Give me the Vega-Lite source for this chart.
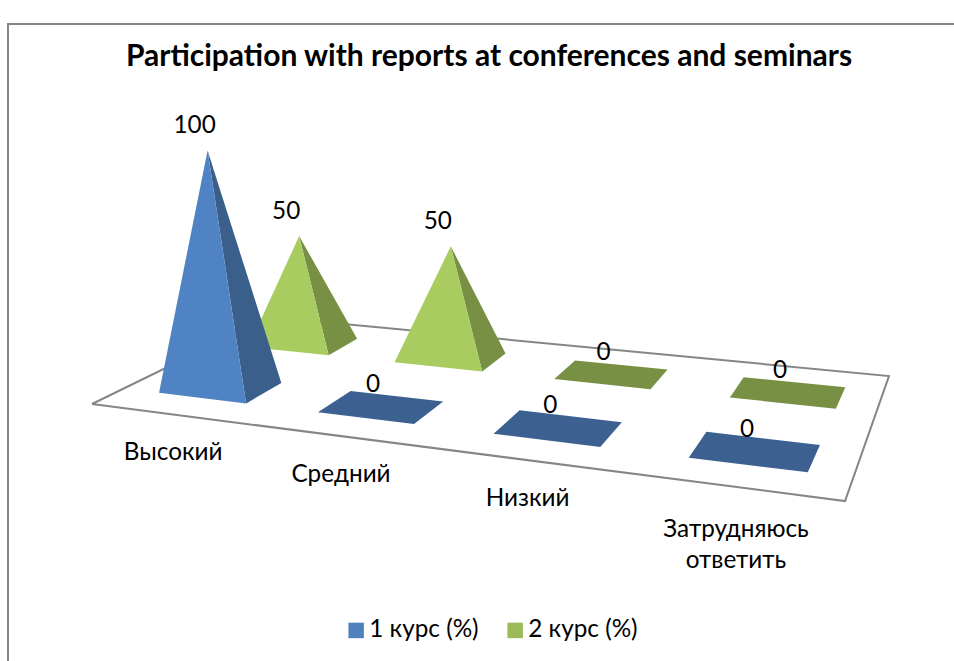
{
"$schema":"https://vega.github.io/schema/vega-lite/v6.json",
"width":954,"height":661,"padding":0,"autosize":"none",
"background":"white",
"config":{"font":"Lato","view":{"stroke":null}},
"title":{"text":"Participation with reports at conferences and seminars","font":"Lato","fontSize":30,"fontWeight":"bold","color":"#000000","anchor":"middle","frame":"group","dx":12,"dy":96,"offset":0,"baseline":"alphabetic"},
"data":{"values":[
{"category":"Высокий","series":"1 курс (%)","value":100},
{"category":"Средний","series":"1 курс (%)","value":0},
{"category":"Низкий","series":"1 курс (%)","value":0},
{"category":"Затрудняюсь ответить","series":"1 курс (%)","value":0},
{"category":"Высокий","series":"2 курс (%)","value":50},
{"category":"Средний","series":"2 курс (%)","value":50},
{"category":"Низкий","series":"2 курс (%)","value":0},
{"category":"Затрудняюсь ответить","series":"2 курс (%)","value":0}
]},
"transform":[
{"calculate":"(indexof(['Высокий','Средний','Низкий','Затрудняюсь ответить'],datum.category)+0.5)/4+0.004","as":"u"},
{"calculate":"datum.series==='1 курс (%)'?0.25:0.75","as":"v"},
{"calculate":"-0.1953*datum.u+0.2304*datum.v+1","as":"den"},
{"calculate":"(588*datum.u+240.2*datum.v+92)/datum.den","as":"cx"},
{"calculate":"(-0.8*datum.u-14*datum.v+404)/datum.den","as":"cy"},
{"calculate":"-0.1953*(datum.u-0.07)+0.2304*(datum.v-0.1)+1","as":"d1"},
{"calculate":"round(100*((588*(datum.u-0.07)+240.2*(datum.v-0.1)+92)/datum.d1-datum.cx))/100","as":"x1"},
{"calculate":"round(100*((-0.8*(datum.u-0.07)-14*(datum.v-0.1)+404)/datum.d1-datum.cy))/100","as":"y1"},
{"calculate":"-0.1953*(datum.u+0.07)+0.2304*(datum.v-0.1)+1","as":"d2"},
{"calculate":"round(100*((588*(datum.u+0.07)+240.2*(datum.v-0.1)+92)/datum.d2-datum.cx))/100","as":"x2"},
{"calculate":"round(100*((-0.8*(datum.u+0.07)-14*(datum.v-0.1)+404)/datum.d2-datum.cy))/100","as":"y2"},
{"calculate":"-0.1953*(datum.u+0.07)+0.2304*(datum.v+0.1)+1","as":"d3"},
{"calculate":"round(100*((588*(datum.u+0.07)+240.2*(datum.v+0.1)+92)/datum.d3-datum.cx))/100","as":"x3"},
{"calculate":"round(100*((-0.8*(datum.u+0.07)-14*(datum.v+0.1)+404)/datum.d3-datum.cy))/100","as":"y3"},
{"calculate":"-0.1953*(datum.u-0.07)+0.2304*(datum.v+0.1)+1","as":"d4"},
{"calculate":"round(100*((588*(datum.u-0.07)+240.2*(datum.v+0.1)+92)/datum.d4-datum.cx))/100","as":"x4"},
{"calculate":"round(100*((-0.8*(datum.u-0.07)-14*(datum.v+0.1)+404)/datum.d4-datum.cy))/100","as":"y4"},
{"calculate":"round(100*(datum.cx-440)*datum.value*0.0006)/100","as":"ax"},
{"calculate":"round(-100*datum.value*2.45/datum.den)/100","as":"ay"},
{"calculate":"'M'+datum.x1+' '+datum.y1+'L'+datum.x2+' '+datum.y2+'L'+datum.ax+' '+datum.ay+'Z'","as":"frontPath"},
{"calculate":"'M'+datum.x2+' '+datum.y2+'L'+datum.x3+' '+datum.y3+'L'+datum.ax+' '+datum.ay+'Z'","as":"sidePath"},
{"calculate":"'M'+datum.x1+' '+datum.y1+'L'+datum.x2+' '+datum.y2+'L'+datum.x3+' '+datum.y3+'L'+datum.x4+' '+datum.y4+'Z'","as":"basePath"},
{"calculate":"datum.cx+datum.ax-(datum.value>0?13:8)","as":"valueX"},
{"calculate":"datum.cy+datum.ay-(datum.value>0?24.5:21.5)","as":"valueY"},
{"calculate":"(588*datum.u+92)/(-0.1953*datum.u+1)+1","as":"catX"},
{"calculate":"(-0.8*datum.u+404)/(-0.1953*datum.u+1)+(datum.u>0.8?31:27)","as":"catY"}
],
"encoding":{
"x":{"field":"cx","type":"quantitative","scale":{"domain":[0,954],"nice":false,"zero":false},"axis":null},
"y":{"field":"cy","type":"quantitative","scale":{"domain":[661,0],"nice":false,"zero":false},"axis":null}
},
"layer":[
{"data":{"values":[{"u":0,"v":0,"k":0},{"u":1,"v":0,"k":1},{"u":1,"v":1,"k":2},{"u":0,"v":1,"k":3},{"u":0,"v":0,"k":4}]},
 "transform":[
 {"calculate":"-0.1953*datum.u+0.2304*datum.v+1","as":"den"},
 {"calculate":"(588*datum.u+240.2*datum.v+92)/datum.den","as":"cx"},
 {"calculate":"(-0.8*datum.u-14*datum.v+404)/datum.den","as":"cy"}],
 "mark":{"type":"line","stroke":"#868686","strokeWidth":2,"strokeJoin":"miter"},
 "encoding":{"order":{"field":"k","type":"quantitative"}}},
{"data":{"values":[{"k":0,"cx":8,"cy":661},{"k":1,"cx":8,"cy":24},{"k":2,"cx":954,"cy":24}]},
 "mark":{"type":"line","stroke":"#868686","strokeWidth":2,"strokeJoin":"miter"},
 "encoding":{"order":{"field":"k","type":"quantitative"}}},
{"mark":{"type":"point","filled":true,"opacity":0,"size":1},
 "encoding":{"fill":{"field":"series","type":"nominal","scale":{"domain":["1 курс (%)","2 курс (%)"],"range":["#4F81BD","#9BBB59"]},
 "legend":{"title":null,"orient":"none","legendX":344,"legendY":618,"direction":"horizontal","columns":2,"symbolType":"square","symbolSize":240,"symbolStrokeWidth":0,"symbolOpacity":1,"labelFont":"Lato","labelFontSize":24.3,"labelColor":"#000000","columnPadding":24,"labelOffset":1,"labelLimit":200}}}},
{"transform":[{"filter":"datum.series==='2 курс (%)' && datum.value>0"}],
 "mark":{"type":"point","filled":true,"opacity":1,"size":4,"fill":"#779043"},
 "encoding":{"shape":{"field":"sidePath","type":"nominal","scale":null}}},
{"transform":[{"filter":"datum.series==='2 курс (%)' && datum.value>0"}],
 "mark":{"type":"point","filled":true,"opacity":1,"size":4,"fill":"#A8CC60"},
 "encoding":{"shape":{"field":"frontPath","type":"nominal","scale":null}}},
{"transform":[{"filter":"datum.series==='2 курс (%)' && datum.value===0"}],
 "mark":{"type":"point","filled":true,"opacity":1,"size":4,"fill":"#779043"},
 "encoding":{"shape":{"field":"basePath","type":"nominal","scale":null}}},
{"transform":[{"filter":"datum.series==='1 курс (%)' && datum.value>0"}],
 "mark":{"type":"point","filled":true,"opacity":1,"size":4,"fill":"#3A5F8B"},
 "encoding":{"shape":{"field":"sidePath","type":"nominal","scale":null}}},
{"transform":[{"filter":"datum.series==='1 курс (%)' && datum.value>0"}],
 "mark":{"type":"point","filled":true,"opacity":1,"size":4,"fill":"#5083C3"},
 "encoding":{"shape":{"field":"frontPath","type":"nominal","scale":null}}},
{"transform":[{"filter":"datum.series==='1 курс (%)' && datum.value===0"}],
 "mark":{"type":"point","filled":true,"opacity":1,"size":4,"fill":"#3C6190"},
 "encoding":{"shape":{"field":"basePath","type":"nominal","scale":null}}},
{"mark":{"type":"text","font":"Lato","fontSize":24.3,"color":"#000000","align":"center","baseline":"middle"},
 "encoding":{"x":{"field":"valueX","type":"quantitative"},"y":{"field":"valueY","type":"quantitative"},"text":{"field":"value","type":"quantitative"}}},
{"transform":[{"filter":"datum.series==='1 курс (%)'"}],
 "mark":{"type":"text","font":"Lato","fontSize":24.3,"color":"#000000","align":"center","baseline":"top","lineBreak":" ","lineHeight":31},
 "encoding":{"x":{"field":"catX","type":"quantitative"},"y":{"field":"catY","type":"quantitative"},"text":{"field":"category","type":"nominal"}}}
]
}
